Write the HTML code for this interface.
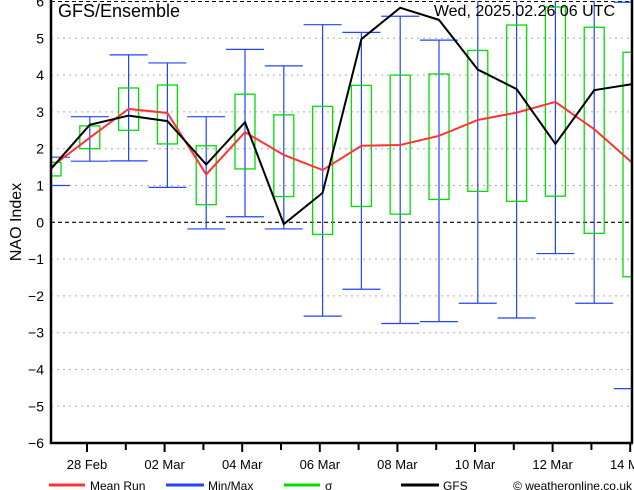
<!DOCTYPE html>
<html><head><meta charset="utf-8"><style>
body{margin:0;background:#fff;}
svg{display:block;font-family:"Liberation Sans",sans-serif;}
</style></head><body>
<svg id="chart" width="634" height="490" viewBox="0 0 634 490" xmlns="http://www.w3.org/2000/svg">
<defs><clipPath id="plot"><rect x="51" y="1" width="582" height="442"/></clipPath></defs>
<g id="grid"></g>
<g id="marks" clip-path="url(#plot)"></g>
<g id="axes"></g>
<text x="58" y="17" font-size="18">GFS/Ensemble</text>
<text x="615" y="16" font-size="16" text-anchor="end">Wed, 2025.02.26   06 UTC</text>
<text transform="translate(21,222) rotate(-90)" font-size="16" text-anchor="middle">NAO Index</text>
<g font-size="12">
<g><line x1="49" y1="485" x2="85" y2="485" stroke="#ff3333" stroke-width="3"/><text x="90" y="490">Mean Run</text></g>
<g><line x1="166" y1="485" x2="204" y2="485" stroke="#2244ff" stroke-width="3"/><text x="208" y="490">Min/Max</text></g>
<g><line x1="284" y1="485" x2="320" y2="485" stroke="#00dd00" stroke-width="3"/><text x="325" y="490">σ</text></g>
<g><line x1="401" y1="485" x2="439" y2="485" stroke="#000" stroke-width="3"/><text x="443" y="490">GFS</text></g>
<text x="632" y="490" text-anchor="end">© weatheronline.co.uk</text>
</g>
</svg>
<script>
const yTicks=[6,5,4,3,2,1,0,-1,-2,-3,-4,-5,-6];
const dayLabels=["28 Feb","","02 Mar","","04 Mar","","06 Mar","","08 Mar","","10 Mar","","12 Mar","","14 Mar"];
const maxVals=[1.77,2.87,4.55,4.33,2.87,4.7,4.25,5.37,5.16,5.6,4.95,6.5,6.5,6.5,6.5,5.98];
const minVals=[1.0,1.66,1.67,0.95,-0.18,0.15,-0.18,-2.55,-1.82,-2.75,-2.7,-2.2,-2.6,-0.85,-2.2,-4.52];
const sigHi=[1.63,2.62,3.65,3.73,2.08,3.48,2.92,3.15,3.72,4.0,4.03,4.67,5.36,5.85,5.3,4.62];
const sigLo=[1.26,2.0,2.5,2.13,0.48,1.45,0.7,-0.33,0.43,0.22,0.62,0.84,0.57,0.71,-0.3,-1.48];
const meanRun=[1.5,2.3,3.08,2.97,1.3,2.45,1.83,1.42,2.08,2.1,2.35,2.78,2.98,3.27,2.53,1.6];
const gfsRun=[1.45,2.65,2.9,2.75,1.57,2.72,-0.05,0.8,4.98,5.83,5.5,4.15,3.62,2.13,3.59,3.76];
const NS="http://www.w3.org/2000/svg";
const X0=51,DX=38.8,Y0=222.3,DY=36.8;
const xi=i=>X0+DX*i;
const xd=d=>87+DX*d;
const yv=v=>Y0-v*DY;
function mk(tag,attrs,parent){const e=document.createElementNS(NS,tag);for(const k in attrs)e.setAttribute(k,attrs[k]);parent.appendChild(e);return e;}
const gridG=document.getElementById('grid'),marksG=document.getElementById('marks'),axesG=document.getElementById('axes');
yTicks.forEach(v=>{
  if(v!==-6&&v!==6){const l=mk('line',{x1:X0,x2:633,y1:yv(v),y2:yv(v),stroke:v===0?'#000':'#aaa','stroke-dasharray':v===0?'4,3':'2,4','stroke-width':v===0?1.2:1},gridG);
  
  }
  const t=mk('text',{x:44,y:yv(v)+5,'font-size':14,'text-anchor':'end'},axesG);
  
  
  t.textContent=v<0?'\u2212'+(-v):String(v);
});
const topBorder=mk('line',{x1:X0,x2:633,y1:1.5,y2:1.5,stroke:'#000','stroke-dasharray':'4,3'},gridG);


maxVals.forEach((mx,i)=>{
  const x=xi(i);
  const w=mk('line',{x1:x,x2:x,y1:yv(mx),y2:yv(minVals[i]),stroke:'#2244ff','stroke-width':1.2},marksG);
  
  
  [mx,minVals[i]].forEach(v=>{const c=mk('line',{x1:x-19,x2:x+19,y1:yv(v),y2:yv(v),stroke:'#2244ff','stroke-width':1.2},marksG);
  
  });
  const b=mk('rect',{x:x-10,y:yv(sigHi[i]),width:20,height:yv(sigLo[i])-yv(sigHi[i]),fill:'none',stroke:'#00dd00','stroke-width':1.3},marksG);
  
  
});
const mp=mk('polyline',{points:meanRun.map((v,i)=>xi(i)+','+yv(v)).join(' '),fill:'none',stroke:'#ff3333','stroke-width':2},marksG);


const gp=mk('polyline',{points:gfsRun.map((v,i)=>xi(i)+','+yv(v)).join(' '),fill:'none',stroke:'#000','stroke-width':2},marksG);


const ax=mk('path',{d:'M51,0 V443 H633 M632,0 V443',fill:'none',stroke:'#000','stroke-width':2.5},axesG);


dayLabels.forEach((lab,d)=>{
  const x=xd(d);
  const tk=mk('line',{x1:x,x2:x,y1:443,y2:lab?452:450,stroke:'#000','stroke-width':2},axesG);
  
  
  if(lab){const t=mk('text',{x:x,y:469,'font-size':13,'text-anchor':'middle'},axesG);
  
  
  t.textContent=lab;}
});
</script>
</body></html>
